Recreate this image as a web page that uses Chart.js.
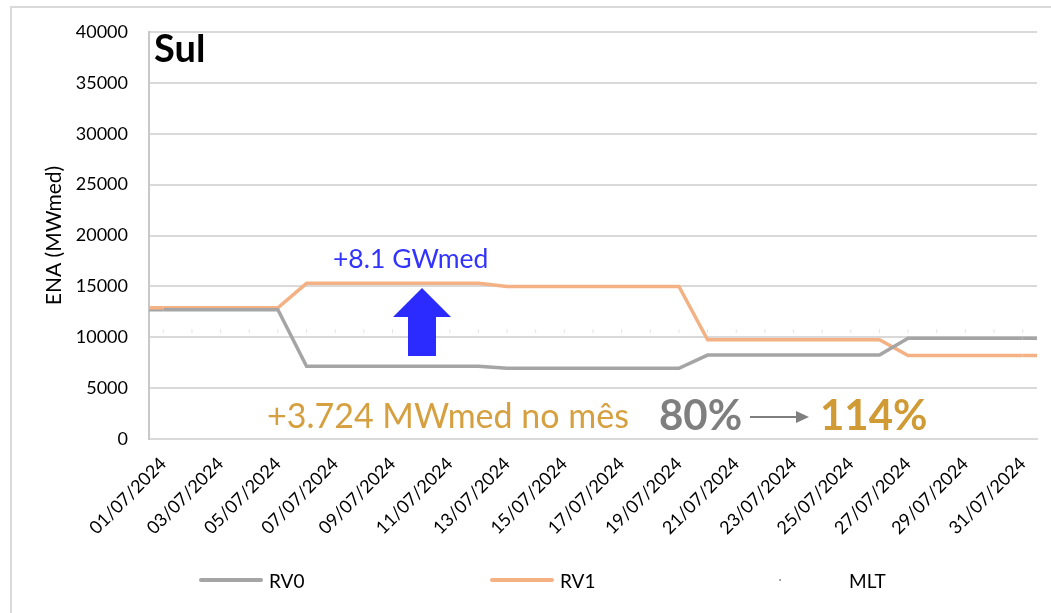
<!DOCTYPE html>
<html>
<head>
<meta charset="utf-8">
<title>ENA Sul</title>
<script src="https://cdn.jsdelivr.net/npm/chart.js@4.4.1/dist/chart.umd.min.js"></script>
<style>
  html, body { margin: 0; padding: 0; background: #fff; overflow: hidden; }
  #wrap { position: relative; width: 1051px; height: 613px; overflow: hidden; }
  #frame { position: absolute; left: 10px; top: 6px; width: 1100px; height: 700px; border: 2px solid #d9d9d9; box-sizing: border-box; }
  #chart { position: absolute; left: 0; top: 0; }
  #legend { position: absolute; left: 0; top: 568px; width: 1051px; height: 24px; font-family: Lato, sans-serif; font-size: 19px; color: #000; }
  .item { position: absolute; top: 0; height: 24px; display: flex; align-items: center; }
  .swatch { display: inline-block; width: 64px; height: 4px; margin-right: 6px; border-radius: 2px; }
</style>
</head>
<body>
<div id="wrap">
  <div id="frame"></div>
  <canvas id="chart" width="1051" height="613"></canvas>
  <div id="legend"></div>
</div>
<script>
// x categories (every day of July 2024)
const days = [
  '01/07/2024','02/07/2024','03/07/2024','04/07/2024','05/07/2024','06/07/2024','07/07/2024',
  '08/07/2024','09/07/2024','10/07/2024','11/07/2024','12/07/2024','13/07/2024','14/07/2024',
  '15/07/2024','16/07/2024','17/07/2024','18/07/2024','19/07/2024','20/07/2024','21/07/2024',
  '22/07/2024','23/07/2024','24/07/2024','25/07/2024','26/07/2024','27/07/2024','28/07/2024',
  '29/07/2024','30/07/2024','31/07/2024'
];

// ENA (MWmed) per day
const rv0 = [
  12700, 12700, 12700, 12700, 12700,
  7150, 7150, 7150, 7150, 7150, 7150, 7150,
  6950, 6950, 6950, 6950, 6950, 6950, 6950,
  8250, 8250, 8250, 8250, 8250, 8250, 8250,
  9900, 9900, 9900, 9900, 9900
];
const rv1 = [
  12900, 12900, 12900, 12900, 12900,
  15300, 15300, 15300, 15300, 15300, 15300, 15300,
  15000, 15000, 15000, 15000, 15000, 15000, 15000,
  9750, 9750, 9750, 9750, 9750, 9750, 9750,
  8200, 8200, 8200, 8200, 8200
];
const mlt = [
  10600, 10600, 10600, 10600, 10600, 10600, 10600, 10600, 10600, 10600, 10600,
  10600, 10600, 10600, 10600, 10600, 10600, 10600, 10600, 10600, 10600, 10600,
  10600, 10600, 10600, 10600, 10600, 10600, 10600, 10600, 10600
];
const yTicks = [0, 5000, 10000, 15000, 20000, 25000, 30000, 35000, 40000];

const FONT = 'Lato, sans-serif';

// Excel draws the lines out to the plot edges
const edgeLines = {
  id: 'edgeLines',
  beforeDatasetsDraw(chart) {
    const {ctx, chartArea} = chart;
    chart.data.datasets.forEach((ds, i) => {
      const pts = chart.getDatasetMeta(i).data;
      if (ds.showLine === false || !pts.length) return;
      const first = pts[0], last = pts[pts.length - 1];
      ctx.save();
      ctx.strokeStyle = ds.borderColor;
      ctx.lineWidth = ds.borderWidth;
      ctx.beginPath();
      ctx.moveTo(chartArea.left, first.y);
      ctx.lineTo(first.x, first.y);
      ctx.moveTo(last.x, last.y);
      ctx.lineTo(chartArea.right, last.y);
      ctx.stroke();
      ctx.restore();
    });
  }
};

const notes = {
  id: 'notes',
  afterDraw(chart) {
    const ctx = chart.ctx;
    ctx.save();
    ctx.textBaseline = 'alphabetic';
    ctx.textAlign = 'left';

    ctx.fillStyle = '#000';
    ctx.font = 'bold 38px ' + FONT;
    ctx.fillText('Sul', 154, 62);

    ctx.fillStyle = '#3333ff';
    ctx.font = '26.5px ' + FONT;
    ctx.fillText('+8.1 GWmed', 333, 268);

    // blue block arrow
    ctx.fillStyle = '#2b2bff';
    ctx.beginPath();
    ctx.moveTo(422, 288);
    ctx.lineTo(451, 317);
    ctx.lineTo(436, 317);
    ctx.lineTo(436, 356);
    ctx.lineTo(408, 356);
    ctx.lineTo(408, 317);
    ctx.lineTo(393, 317);
    ctx.closePath();
    ctx.fill();

    ctx.fillStyle = '#d6a040';
    ctx.font = '34px ' + FONT;
    ctx.fillText('+3.724 MWmed no mês', 267, 428);

    ctx.fillStyle = '#7f7f7f';
    ctx.font = 'bold 42px ' + FONT;
    ctx.fillText('80%', 659, 430);

    ctx.strokeStyle = '#7f7f7f';
    ctx.lineWidth = 2;
    ctx.beginPath();
    ctx.moveTo(750, 417);
    ctx.lineTo(798, 417);
    ctx.stroke();
    ctx.beginPath();
    ctx.moveTo(809, 417);
    ctx.lineTo(796, 411);
    ctx.lineTo(796, 423);
    ctx.closePath();
    ctx.fill();

    ctx.fillStyle = '#d09a34';
    ctx.fillText('114%', 820, 430);
    ctx.restore();
  }
};

const chart = new Chart(document.getElementById('chart'), {
  type: 'line',
  data: {
    labels: days,
    datasets: [
      {label: 'RV0', data: rv0, borderColor: '#a5a5a5', borderWidth: 3.5, pointRadius: 0, tension: 0},
      {label: 'RV1', data: rv1, borderColor: '#f4b183', borderWidth: 3.5, pointRadius: 0, tension: 0},
      {label: 'MLT', data: mlt, showLine: false, borderColor: '#e4e4e4', borderWidth: 1,
       pointStyle: 'line', rotation: 90, pointRadius: 2, pointBorderColor: '#e4e4e4'}
    ]
  },
  options: {
    responsive: false,
    animation: false,
    events: [],
    layout: {padding: {left: 0, top: 32, right: 14, bottom: 0}},
    plugins: {legend: {display: false}, tooltip: {enabled: false}},
    scales: {
      x: {
        offset: true,
        grid: {display: false},
        border: {color: '#d9d9d9', width: 2},
        ticks: {
          autoSkip: false, maxRotation: 45, minRotation: 45, padding: 6,
          color: '#000', font: {family: FONT, size: 18},
          callback: (v, i) => (i % 2 === 0 ? days[i] : '')
        },
        afterFit: s => { s.height = 613 - 439; }
      },
      y: {
        min: yTicks[0], max: yTicks[yTicks.length - 1],
        afterBuildTicks: s => { s.ticks = yTicks.map(v => ({value: v})); },
        grid: {color: '#d9d9d9', lineWidth: 2, drawTicks: false},
        border: {color: '#c8c8c8', width: 2},
        ticks: {padding: 21, color: '#000', font: {family: FONT, size: 18},
                callback: v => String(v)},
        title: {display: true, text: 'ENA (MWmed)', color: '#000',
                font: {family: FONT, size: 21}, padding: {top: 42, bottom: 0}},
        afterFit: s => { s.width = 149; }
      }
    }
  },
  plugins: [edgeLines, notes]
});

// legend, laid out like the Excel one
const legendX = [199, 490, 779];
const legend = document.getElementById('legend');
chart.data.datasets.forEach((ds, i) => {
  const item = document.createElement('div');
  item.className = 'item';
  item.style.left = legendX[i] + 'px';
  const sw = document.createElement('span');
  sw.className = 'swatch';
  if (ds.showLine === false) {
    sw.style.height = '2px';
    sw.style.background = 'linear-gradient(to right, #999 0 2px, transparent 2px)';
  } else {
    sw.style.background = ds.borderColor;
  }
  item.appendChild(sw);
  item.appendChild(document.createTextNode(ds.label));
  legend.appendChild(item);
});
</script>
</body>
</html>
